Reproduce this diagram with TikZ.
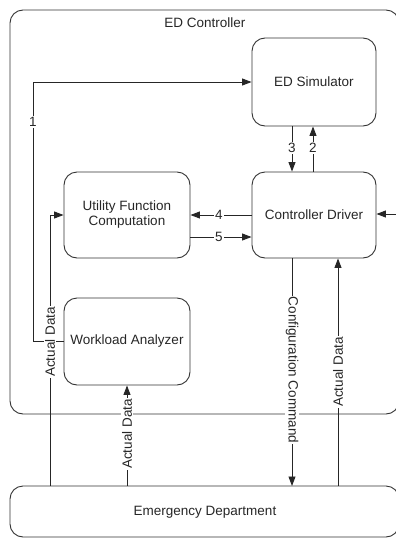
\documentclass[tikz,border=0pt]{standalone}
\usepackage{fontspec}
\setmainfont{Liberation Sans}
\usetikzlibrary{arrows.meta}
\begin{document}
\begin{tikzpicture}[x=1pt,y=-1pt,
  every node/.style={font=\fontsize{13.5}{15}\selectfont, text=black!85},
  blk/.style={draw=black!80, line width=0.9pt, rounded corners=13pt, inner sep=0pt},
  conn/.style={draw=black!85, line width=0.9pt},
  arr/.style={conn, -{Triangle[length=9.5pt,width=7pt]}},
  lbl/.style={fill=white, inner sep=1pt}]
\useasboundingbox (0,0) rectangle (396,541);
% boxes
\draw[blk] (10,10) rectangle (399,414);
\node (edc) at (205,23) {ED Controller};
\node[blk, minimum width=124pt, minimum height=88pt] (sim) at (314,82) {ED Simulator};
\node[blk, minimum width=124pt, minimum height=86pt] (cd) at (314,215) {Controller Driver};
\node[blk, minimum width=126pt, minimum height=86pt, align=center] (ufc) at (127,215) {Utility Function\\Computation};
\node[blk, minimum width=126pt, minimum height=87pt] (wa) at (127,341.5) {Workload Analyzer};
\draw[blk] (10,486) rectangle (399,537);
\node (edl) at (205,512) {Emergency Department};
\coordinate (ed) at (205,486);
% coordinates for x positions
\coordinate (xa) at (33,0);
\coordinate (xb) at (50,0);
\coordinate (xc) at (127,0);
\coordinate (xd) at (292,0);
\coordinate (xe) at (313,0);
\coordinate (xf) at (338,0);
\coordinate (rin) at (397,214);
% connectors
\draw[arr] (wa.west) -- (xa |- wa.west) |- (sim.west);
\draw[arr] (xd |- sim.south) -- (xd |- cd.north);
\draw[arr] (xe |- cd.north) -- (xe |- sim.south);
\draw[arr] (cd.west) -- (ufc.east);
\draw[arr] (ufc.east |- 0,237) -- (cd.west |- 0,237);
\draw[arr] (xb |- ed) -- (xb |- ufc.west) -- (ufc.west);
\draw[arr] (xc |- ed) -- (wa.south);
\draw[arr] (xd |- cd.south) -- (xd |- ed);
\draw[arr] (xf |- ed) -- (xf |- cd.south);
\draw[arr] (rin) -- (cd.east |- rin);
% labels
\node[lbl] (l1) at (33,122) {1};
\node[lbl] (l3) at (292,148) {3};
\node[lbl] (l2) at (313,148) {2};
\node[lbl] (l4) at (219,215) {4};
\node[lbl] (l5) at (219,237) {5};
\node[lbl, rotate=90] (la) at (50,342) {Actual Data};
\node[lbl, rotate=90] (lb) at (127,434) {Actual Data};
\node[lbl, rotate=-90] (lc) at (292,370) {Configuration Command};
\node[lbl, rotate=90] (ld) at (338,372) {Actual Data};
\end{tikzpicture}
\end{document}
